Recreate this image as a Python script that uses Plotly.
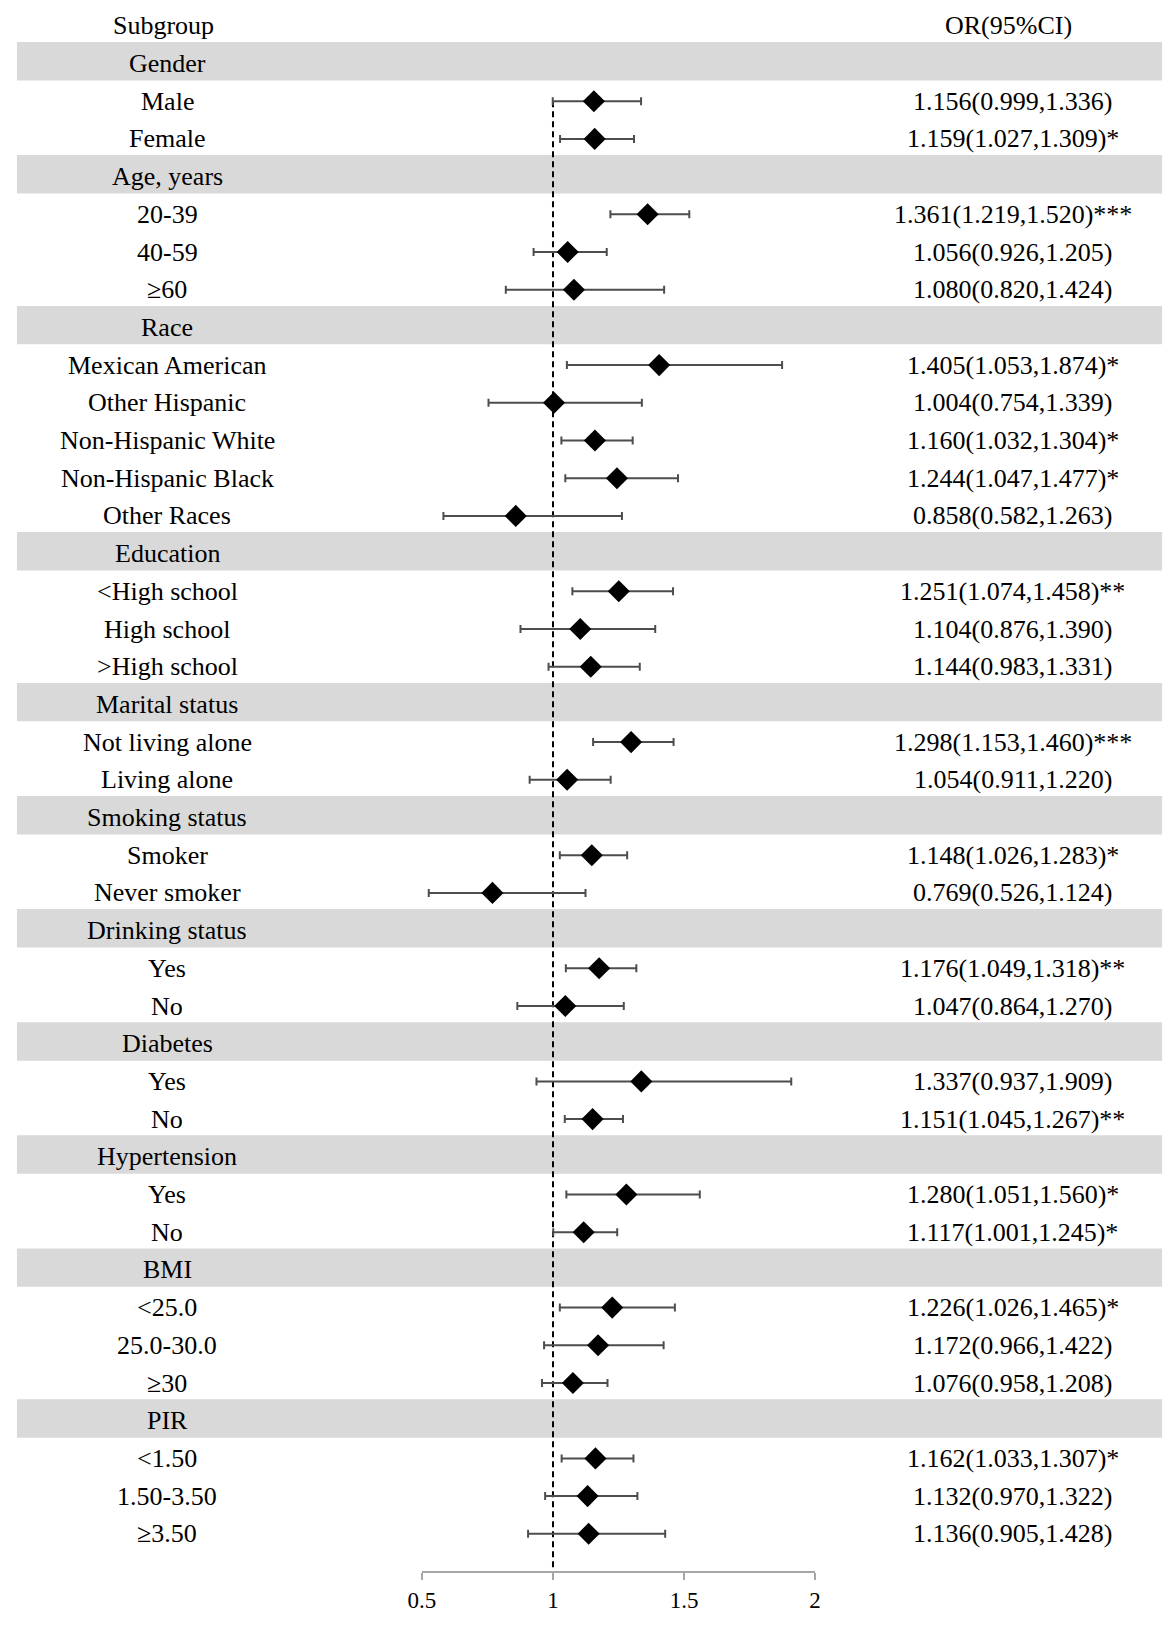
import plotly.graph_objects as go

# rows top to bottom; headers have no estimate
row_labels = [
    "Gender", "Male", "Female",
    "Age, years", "20-39", "40-59", "≥60",
    "Race", "Mexican American", "Other Hispanic", "Non-Hispanic White", "Non-Hispanic Black", "Other Races",
    "Education", "<High school", "High school", ">High school",
    "Marital status", "Not living alone", "Living alone",
    "Smoking status", "Smoker", "Never smoker",
    "Drinking status", "Yes", "No",
    "Diabetes", "Yes", "No",
    "Hypertension", "Yes", "No",
    "BMI", "<25.0", "25.0-30.0", "≥30",
    "PIR", "<1.50", "1.50-3.50", "≥3.50",
]
is_header = [
    True, False, False,
    True, False, False, False,
    True, False, False, False, False, False,
    True, False, False, False,
    True, False, False,
    True, False, False,
    True, False, False,
    True, False, False,
    True, False, False,
    True, False, False, False,
    True, False, False, False,
]
or_est = [
    None, 1.156, 1.159,
    None, 1.361, 1.056, 1.080,
    None, 1.405, 1.004, 1.160, 1.244, 0.858,
    None, 1.251, 1.104, 1.144,
    None, 1.298, 1.054,
    None, 1.148, 0.769,
    None, 1.176, 1.047,
    None, 1.337, 1.151,
    None, 1.280, 1.117,
    None, 1.226, 1.172, 1.076,
    None, 1.162, 1.132, 1.136,
]
ci_low = [
    None, 0.999, 1.027,
    None, 1.219, 0.926, 0.820,
    None, 1.053, 0.754, 1.032, 1.047, 0.582,
    None, 1.074, 0.876, 0.983,
    None, 1.153, 0.911,
    None, 1.026, 0.526,
    None, 1.049, 0.864,
    None, 0.937, 1.045,
    None, 1.051, 1.001,
    None, 1.026, 0.966, 0.958,
    None, 1.033, 0.970, 0.905,
]
ci_high = [
    None, 1.336, 1.309,
    None, 1.520, 1.205, 1.424,
    None, 1.874, 1.339, 1.304, 1.477, 1.263,
    None, 1.458, 1.390, 1.331,
    None, 1.460, 1.220,
    None, 1.283, 1.124,
    None, 1.318, 1.270,
    None, 1.909, 1.267,
    None, 1.560, 1.245,
    None, 1.465, 1.422, 1.208,
    None, 1.307, 1.322, 1.428,
]
stars = [
    "", "", "*",
    "", "***", "", "",
    "", "*", "", "*", "*", "",
    "", "**", "", "",
    "", "***", "",
    "", "*", "",
    "", "**", "",
    "", "", "**",
    "", "*", "*",
    "", "*", "", "",
    "", "*", "", "",
]
x_ticks = [0.5, 1, 1.5, 2]
x_tick_text = ["0.5", "1", "1.5", "2"]

W, H = 1174, 1637
ROW0, ROW_H = 63.5, 37.7      # px of first row, px per row
AXIS_PX = 1571                # px of x axis line
FONT = "Liberation Serif, Times New Roman, serif"

ys, xs, lo_err, hi_err = [], [], [], []
for i, v in enumerate(or_est):
    if v is None:
        continue
    ys.append(i)
    xs.append(v)
    lo_err.append(v - ci_low[i])
    hi_err.append(ci_high[i] - v)

fig = go.Figure()
fig.add_trace(go.Scatter(
    x=xs, y=ys, mode="markers",
    marker=dict(symbol="diamond", size=17, color="black"),
    error_x=dict(type="data", symmetric=False, array=hi_err, arrayminus=lo_err,
                 color="#4d4d4d", thickness=2, width=4),
    cliponaxis=False, showlegend=False, hoverinfo="skip",
))

shapes = []
for i, h in enumerate(is_header):
    if h:
        shapes.append(dict(type="rect", xref="paper", yref="y",
                           x0=3 / W, x1=1168 / W, y0=i - 0.57, y1=i + 0.45,
                           fillcolor="#d9d9d9", line_width=0, layer="below"))
y_top = -ROW0 / ROW_H
y_bot = (AXIS_PX - ROW0) / ROW_H
shapes.append(dict(type="line", xref="x", yref="y", x0=1, x1=1, y0=1, y1=y_bot,
                   line=dict(color="black", width=2, dash="6px,4px"), layer="below"))

annotations = [
    dict(text="Subgroup", x=152 / W, y=-1, xref="paper", yref="y", showarrow=False,
         xanchor="center", font=dict(family=FONT, size=26, color="black")),
    dict(text="OR(95%CI)", x=1012 / W, y=-1, xref="paper", yref="y", showarrow=False,
         xanchor="center", font=dict(family=FONT, size=26, color="black")),
]
for i, lab in enumerate(row_labels):
    annotations.append(dict(text=lab.replace("<", "&lt;").replace(">", "&gt;"),
                            x=156 / W, y=i, xref="paper", yref="y",
                            showarrow=False, xanchor="center",
                            font=dict(family=FONT, size=26, color="black")))
    if or_est[i] is not None:
        txt = "%.3f(%.3f,%.3f)%s" % (or_est[i], ci_low[i], ci_high[i], stars[i])
        annotations.append(dict(text=txt, x=1016 / W, y=i, xref="paper", yref="y",
                                showarrow=False, xanchor="center",
                                font=dict(family=FONT, size=26, color="black")))

fig.update_layout(
    width=W, height=H,
    margin=dict(l=0, r=0, t=0, b=0),
    paper_bgcolor="white", plot_bgcolor="white",
    shapes=shapes, annotations=annotations,
    xaxis=dict(domain=[415 / W, 815 / W], range=[0.5, 2],
               tickvals=x_ticks, ticktext=x_tick_text,
               showline=True, linecolor="#a6a6a6", linewidth=2,
               ticks="outside", ticklen=7, tickcolor="#a6a6a6", tickwidth=2,
               showgrid=False, zeroline=False,
               tickfont=dict(family=FONT, size=23, color="black")),
    yaxis=dict(domain=[(H - AXIS_PX) / H, 1], range=[y_bot, y_top],
               visible=False, showgrid=False, zeroline=False),
)

# drop the default page margin so the figure sits at the window origin
fig.write_html("out.html", config={"displayModeBar": False},
               post_script="document.body.style.margin='0';document.body.style.overflow='hidden';")
